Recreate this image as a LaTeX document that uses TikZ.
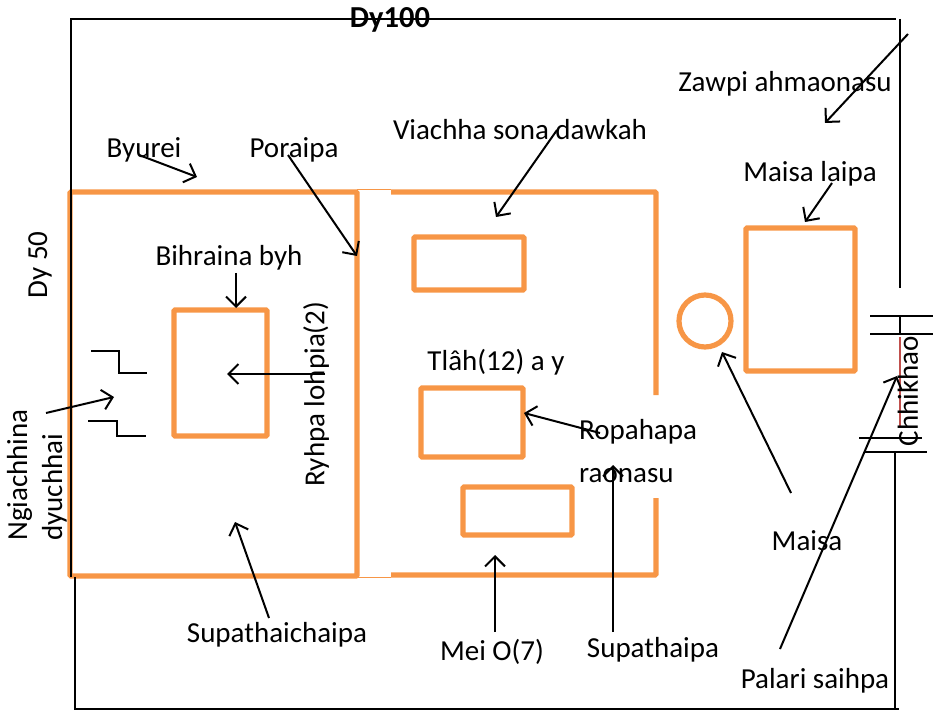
\documentclass[tikz,border=0pt]{standalone}
\usepackage{fontspec}
\setmainfont{Carlito}
\usetikzlibrary{arrows.meta}
\definecolor{wallorange}{HTML}{F79646}
\definecolor{ditchred}{HTML}{C0504D}

\begin{document}
\begin{tikzpicture}[x=1pt, y=-1pt,
        wall/.style={draw=wallorange, line width=5.2pt, rounded corners=1pt},
        room/.style={rectangle, draw=wallorange, line width=5.2pt, rounded corners=1pt, inner sep=0pt, outer sep=0pt, anchor=north west},
        line/.style={draw=black, line width=1.3pt},
        arrow/.style={->, >={Straight Barb[length=10pt, width=20pt]}, line width=2pt},
        label/.style={font=\fontsize{29}{35}\selectfont, inner sep=0pt, text=black}
    ]
    \useasboundingbox (0,0) rectangle (942,711);
    % Left and right halls
    \draw[wall] (357,192) -- (70,192) -- (70,576) -- (357,576) -- cycle;
    \draw[wall] (391,192) -- (656,192) -- (656,395);
    \draw[wall] (656,498) -- (656,575) -- (391,575);
    \draw[draw=wallorange, line width=1pt] (357,190) -- (391,190);
    \draw[draw=wallorange, line width=1pt] (357,577) -- (391,577);

    % Outer boundary
    \coordinate (topleft) at (71,19);
    \coordinate (topend) at (896,19);
    \coordinate (toprightcorner) at (900,19);
    \coordinate (leftend) at (71,577);
    \coordinate (botleft) at (75,577);
    \coordinate (botcorner) at (75,709);
    \coordinate (botend) at (899,709);
    \coordinate (botright) at (895,709);
    \coordinate (gateA) at (900,288);
    \coordinate (gateB) at (895,452);
    \draw[line] (leftend) -- (topleft) -- (topend);
    \draw[line] (toprightcorner) -- (gateA);
    \draw[line] (botleft) -- (botcorner) -- (botend);
    \draw[line] (botright) -- (gateB);

    % Inner rooms
    \node[room, minimum width=93pt, minimum height=126pt] (altar) at (174,310) {};
    \node[room, minimum width=110pt, minimum height=53pt] (roomA) at (414,237) {};
    \node[room, minimum width=102pt, minimum height=69pt] (roomB) at (421,388) {};
    \node[room, minimum width=109pt, minimum height=48pt] (roomC) at (463,487) {};
    \node[room, minimum width=109pt, minimum height=143pt] (house) at (746,228) {};
    \node[circle, draw=wallorange, line width=5.2pt, minimum size=52pt, inner sep=0pt, outer sep=0pt] (well) at (705,321) {};

    % Doorway steps
    \coordinate (stepA) at (91,351);
    \coordinate (stepB) at (88,421);
    \draw[line] (stepA) -- ++(28,0) -- ++(0,22) -- ++(28,0);
    \draw[line] (stepB) -- ++(29,0) -- ++(0,15) -- ++(29,0);

    % Gate
    \coordinate (gateC) at (870,316);
    \coordinate (gateD) at (870,334);
    \coordinate (gateE) at (859,438);
    \coordinate (gateF) at (864,452);
    \coordinate (postA) at (900,316);
    \coordinate (postB) at (900,334);
    \coordinate (ditchA) at (900,337);
    \coordinate (ditchB) at (900,427);
    \draw[line] (gateC) -- ++(63,0);
    \draw[line] (gateD) -- ++(63,0);
    \draw[line] (gateE) -- ++(63,0);
    \draw[line] (gateF) -- ++(63,0);
    \draw[line] (postA) -- (postB);
    \draw[draw=ditchred, line width=1.2pt] (ditchA) -- (ditchB);

    % Labels
    \node[label, font=\fontsize{30.5}{35}\selectfont\bfseries] (dyhundred) at (390,20) {Dy100};
    \node[label, rotate=90] (dyfifty) at (40,265) {Dy 50};
    \node[label] (zawpi) at (785,84) {Zawpi ahmaonasu};
    \node[label] (byurei) at (144,150) {Byurei};
    \node[label] (poraipa) at (294,150) {Poraipa};
    \node[label] (viachha) at (520,130) {Viachha sona dawkah};
    \node[label] (maisalaipa) at (810,174) {Maisa laipa};
    \node[label] (bihraina) at (229,258) {Bihraina byh};
    \node[label, rotate=90] (ryhpa) at (316,394) {Ryhpa lohpia(2)};
    \node[label] (tlah) at (496,362) {Tlâh(12) a y};
    \node[label, align=left, anchor=west] (ropahapa) at (579,451) {Ropahapa\\[8pt]raonasu};
    \node[label, rotate=90, align=left] (ngiachhina) at (37,475) {Ngiachhina\\dyuchhai};
    \node[label] (maisa) at (807,541) {Maisa};
    \node[label] (supathaichaipa) at (277,635) {Supathaichaipa};
    \node[label] (meio) at (492,652) {Mei O(7)};
    \node[label] (supathaipa) at (653,650) {Supathaipa};
    \node[label] (palari) at (815,681) {Palari saihpa};
    \node[label, rotate=90] (chhikhao) at (908,391) {Chhikhao};

    % Pointer ends
    \coordinate (zawpitail) at (908,34);     \coordinate (zawpitip) at (825,123);
    \coordinate (byureitail) at (139,155);   \coordinate (byureitip) at (197,177);
    \coordinate (poraipatail) at (288,155);  \coordinate (poraipatip) at (357,256);
    \coordinate (viachhatail) at (557,130);  \coordinate (viachhatip) at (496,217);
    \coordinate (laipatail) at (832,183);    \coordinate (laipatip) at (805,222);
    \coordinate (bihrainatail) at (236,273); \coordinate (bihrainatip) at (236,308);
    \coordinate (ryhpatail) at (325,374);    \coordinate (ryhpatip) at (227,374);
    \coordinate (ngiatail) at (46,413);      \coordinate (ngiatip) at (114,397);
    \coordinate (chaipatail) at (269,618);   \coordinate (chaipatip) at (235,522);
    \coordinate (ropatail) at (600,433);     \coordinate (ropatip) at (524,413);
    \coordinate (supatail) at (613,632);     \coordinate (supatip) at (613,465);
    \coordinate (meitail) at (495,632);      \coordinate (meitip) at (495,555);
    \coordinate (maisatail) at (791,493);    \coordinate (maisatip) at (722,352);
    \coordinate (palaritail) at (780,649);   \coordinate (palaritip) at (897,376);

    % Pointer arrows
    \foreach \name in {zawpi, byurei, poraipa, viachha, laipa, bihraina, ryhpa, ngia, chaipa, ropa, supa, mei, maisa, palari}
        \draw[arrow] (\name tail) -- (\name tip);
\end{tikzpicture}
\end{document}
